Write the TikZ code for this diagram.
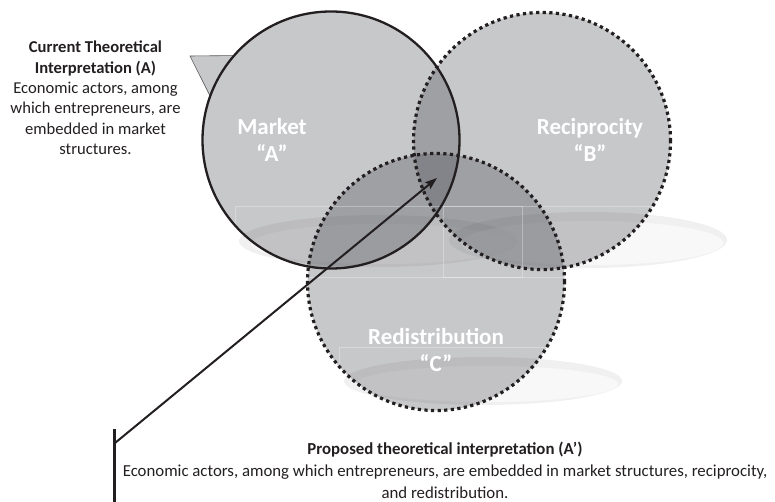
\documentclass[tikz,border=0pt]{standalone}
\usepackage{fontspec}
\setmainfont{Carlito}
\usetikzlibrary{arrows.meta}
\definecolor{ink}{RGB}{35,31,32}
\definecolor{disc}{RGB}{62,64,72}
\begin{document}
\begin{tikzpicture}[x=1pt,y=-1pt,
  setdisc/.style={circle, minimum size=257pt, inner sep=0pt, fill=disc, fill opacity=0.29},
  solidrim/.style={draw=ink, line width=2.3pt},
  dotrim/.style={draw=ink, line width=3.2pt, dash pattern=on 3.2pt off 3.4pt},
  shadowout/.style={fill=black, opacity=0.06},
  shadowin/.style={fill=white, opacity=0.5},
  seam/.style={draw=white, opacity=0.3, line width=0.8pt},
  setlabel/.style={align=center, text=white, font=\fontsize{23}{27}\selectfont\bfseries},
  note/.style={align=center, text=ink, inner sep=0pt},
  pointer/.style={draw=ink, line width=2pt, -{Stealth[length=12pt, width=8.5pt, inset=2pt]}},
  callout/.style={fill=disc, fill opacity=0.29, draw=ink!75, line width=0.6pt}
]
\useasboundingbox (0,0) rectangle (775,502);

% soft reflections under the three sets
\fill[shadowout] (378,241) ellipse [x radius=139pt, y radius=26pt];
\fill[shadowin]  (382,244) ellipse [x radius=131pt, y radius=20pt];
\fill[shadowout] (588,240) ellipse [x radius=139pt, y radius=28pt];
\fill[shadowin]  (592,243) ellipse [x radius=131pt, y radius=22pt];
\fill[shadowout] (483,381) ellipse [x radius=139pt, y radius=24pt];
\fill[shadowin]  (487,384) ellipse [x radius=131pt, y radius=18pt];

% the three sets
\node[setdisc] (A) at (331,140) {};
\node[setdisc] (B) at (542,141) {};
\node[setdisc] (C) at (436,282) {};

% callout wedge on the market set
\coordinate (wedge) at (190,56);
\fill[callout, draw=none] (wedge) -- (A.139) arc [start angle=139, end angle=160, radius=128.5pt] -- cycle;
\draw[draw=ink!75, line width=0.6pt] (A.139) -- (wedge) -- (A.160);

% faint frame seams
\draw[seam] (235,206) rectangle (522,277);
\draw[seam] (443,206) rectangle (735,277);
\draw[seam] (339,347) rectangle (640,430);

% rims
\draw[solidrim] (A.center) circle [radius=128.5pt];
\draw[dotrim] (B.center) circle [radius=128.5pt];
\draw[dotrim] (C.center) circle [radius=128.5pt];

% set labels
\node[setlabel] (la) at (272,139.5) {Market\\“A”};
\node[setlabel] (lb) at (590,139.5) {Reciprocity\\“B”};
\node[setlabel] (lc) at (436,349.5) {Redistribution\\“C”};

% current interpretation
\node[note, font=\fontsize{16.6}{20.4}\selectfont] (cur) at (95.5,98)
  {\textbf{Current Theoretical}\\\textbf{Interpretation (A)}\\Economic actors, among\\which entrepreneurs, are\\embedded in market\\structures.};

% proposed interpretation
\node[note, font=\fontsize{16.8}{22}\selectfont] (prop) at (445,470)
  {\textbf{Proposed theoretical interpretation (A’)}\\Economic actors, among which entrepreneurs, are embedded in market structures, reciprocity,\\and redistribution.};

\coordinate (bartop) at (114,429);
\coordinate (barbot) at (114,503);
\coordinate (join) at (115,443);
\coordinate (core) at (437,178);
\draw[ink, line width=3pt] (bartop) -- (barbot);
\draw[pointer] (join) -- (core);
\end{tikzpicture}
\end{document}
